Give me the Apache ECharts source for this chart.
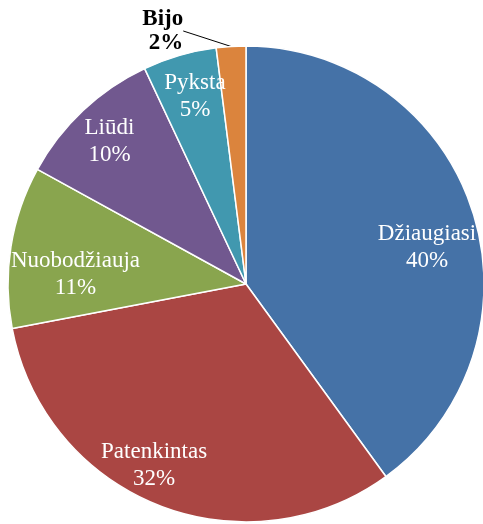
<!DOCTYPE html>
<html><head><meta charset="utf-8">
<script src="https://cdn.jsdelivr.net/npm/echarts@6/dist/echarts.min.js"></script>
<style>html,body{margin:0;padding:0;background:#fff}#c{width:483px;height:524px}</style>
</head><body><div id="c"></div>
<script>
const categories = ['Džiaugiasi', 'Patenkintas', 'Nuobodžiauja', 'Liūdi', 'Pyksta', 'Bijo'];
const values = [40, 32, 11, 10, 5, 2];
const colors = ['#4572A7', '#AA4643', '#89A54E', '#71588F', '#4198AF', '#DB843D'];
const labelOffsets = [[65, 1], [-47, 68], [-50, 10], [-53, -54], [-17, -70], [0, 0]];

const chart = echarts.init(document.getElementById('c'));
const data = categories.map((n, i) => {
  const d = { name: n, value: values[i], itemStyle: { color: colors[i] } };
  if (i === 5) {
    d.label = {
      position: 'outside', color: '#000', fontWeight: 'bold',
      fontFamily: 'Liberation Serif', fontSize: 23, lineHeight: 24, align: 'center'
    };
    d.labelLine = { show: true, length: 6, length2: 0, lineStyle: { color: '#000', width: 1 } };
  } else {
    d.label = { offset: labelOffsets[i] };
  }
  return d;
});
chart.setOption({
  animation: false,
  series: [{
    type: 'pie',
    center: [246, 284],
    radius: 238,
    startAngle: 90,
    clockwise: true,
    avoidLabelOverlap: false,
    itemStyle: { borderColor: '#fff', borderWidth: 1.5 },
    label: {
      show: true, position: 'inside', color: '#fff',
      fontFamily: 'Liberation Serif', fontSize: 23, lineHeight: 27, align: 'center',
      formatter: p => p.name + '\n' + Math.round(p.percent) + '%'
    },
    labelLine: { show: false },
    labelLayout: function (p) {
      if (p.dataIndex === 5) {
        const r = p.labelRect;
        return { x: r.x + r.width / 2 - 22, y: r.y + r.height / 2 - 9.5 };
      }
      return {};
    },
    emphasis: { disabled: true },
    data: data
  }]
});
</script></body></html>
